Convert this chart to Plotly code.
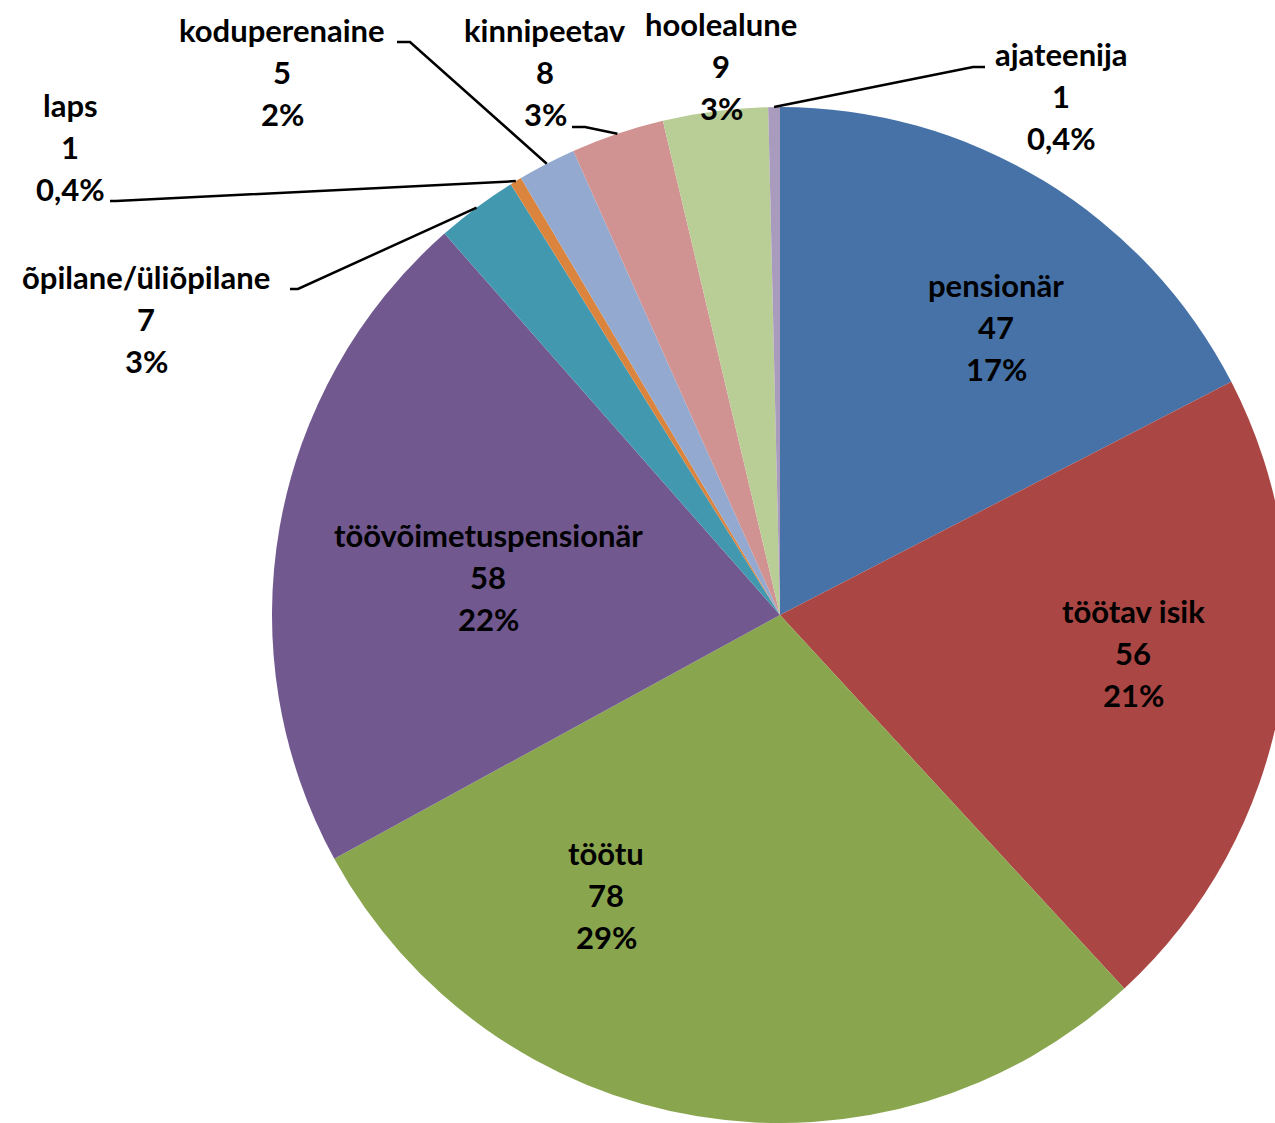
import math
import plotly.graph_objects as go

# Respondents by social status (count per group)
categories = [
    "pensionär", "töötav isik", "töötu", "töövõimetuspensionär",
    "õpilane/üliõpilane", "laps", "koduperenaine", "kinnipeetav",
    "hoolealune", "ajateenija",
]
counts = [47, 56, 78, 58, 7, 1, 5, 8, 9, 1]
share_labels = ["17%", "21%", "29%", "22%", "3%", "0,4%", "2%", "3%", "3%", "0,4%"]

colors = [
    "#4672A7", "#AA4643", "#89A54E", "#71588F", "#4198AF",
    "#DB843D", "#93A9CF", "#D19392", "#B9CD96", "#A99BBD",
]

# Canvas and pie geometry (pixels)
W, H = 1290, 1123
CX, CY, R = 780, 615, 508
LINE_STEP = 42

# Centre of the first text line of each data label (pixels)
label_pos = {
    "pensionär": (996, 285),
    "töötav isik": (1133, 611),
    "töötu": (606, 853),
    "töövõimetuspensionär": (488, 535),
    "õpilane/üliõpilane": (146, 277),
    "laps": (70, 105),
    "koduperenaine": (282, 30),
    "kinnipeetav": (545, 30),
    "hoolealune": (721, 24),
    "ajateenija": (1061, 54),
}

# Text-side points of the leader lines (start, elbow), in pixels
leader_start = {
    "õpilane/üliõpilane": [(290, 289), (298, 289)],
    "laps": [(110, 201), (116, 201)],
    "koduperenaine": [(397, 42), (410, 42)],
    "kinnipeetav": [(572, 127), (585, 127)],
    "ajateenija": [(985, 67), (973, 67)],
}


def px(x):
    return x / W


def py(y):
    return 1 - y / H


fig = go.Figure(
    go.Pie(
        labels=categories,
        values=counts,
        sort=False,
        direction="clockwise",
        rotation=0,
        marker=dict(colors=colors, line=dict(width=0)),
        textinfo="none",
        hoverinfo="label+value+percent",
        showlegend=False,
        domain=dict(x=[px(CX - R), px(CX + R)], y=[py(CY + R), py(CY - R)]),
    )
)

font = dict(family="Lato, Arial, sans-serif", size=31, color="black", weight=700)

annotations = []
shapes = []
total = sum(counts)
cum = 0
for name, val, share in zip(categories, counts, share_labels):
    lx, ly = label_pos[name]
    for i, line in enumerate([name, str(val), share]):
        annotations.append(
            dict(
                x=px(lx), y=py(ly + i * LINE_STEP), xref="paper", yref="paper",
                text=line, showarrow=False, font=font,
                xanchor="center", yanchor="middle",
            )
        )
    # leader line to the slice edge at its mid angle
    mid = (cum + val / 2) / total * 2 * math.pi
    ex = CX + R * math.sin(mid)
    ey = CY - R * math.cos(mid)
    if name in leader_start:
        (sx, sy), (bx, by) = leader_start[name]
        path = (
            f"M {px(sx)} {py(sy)} L {px(bx)} {py(by)} L {px(ex)} {py(ey)}"
        )
        shapes.append(
            dict(type="path", path=path, xref="paper", yref="paper",
                 line=dict(color="black", width=2.5))
        )
    cum += val

fig.update_layout(
    width=W,
    height=H,
    margin=dict(l=0, r=0, t=0, b=0),
    paper_bgcolor="white",
    plot_bgcolor="white",
    annotations=annotations,
    shapes=shapes,
)

fig.write_html(
    "out.html",
    post_script=(
        "document.documentElement.style.overflow='hidden';"
        "document.body.style.overflow='hidden';"
    ),
)
